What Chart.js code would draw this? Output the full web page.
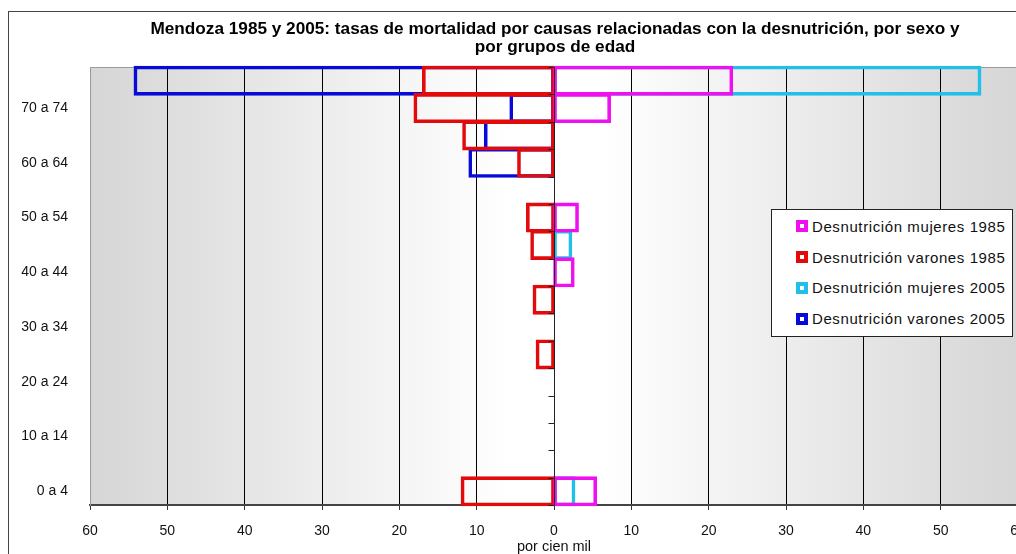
<!DOCTYPE html>
<html>
<head>
<meta charset="utf-8">
<script src="https://cdn.jsdelivr.net/npm/chart.js@4.4.0/dist/chart.umd.min.js"></script>
<style>
  html, body { margin: 0; padding: 0; background: #fff; overflow: hidden; width: 1016px; height: 554px; }
  #frame { position: absolute; left: 8px; top: 11px; width: 1200px; height: 800px; border: 1.5px solid #444; background: #fff; }
  #myChart { position: absolute; left: 0; top: 0; }
  #legend {
    position: absolute; left: 771px; top: 209px; width: 242px; height: 128px;
    box-sizing: border-box; border: 1px solid #222; background: #fff; padding-top: 1px;
    font-family: 'Liberation Sans', Arial, sans-serif; font-size: 15px; letter-spacing: 0.6px; color: #111;
  }
  #legend .row { height: 30.8px; display: flex; align-items: center; padding-left: 24px; }
  #legend .mark { width: 12px; height: 12px; box-sizing: border-box; border: 4px solid; background: #fff; margin-right: 4px; }
</style>
</head>
<body>
<div id="frame"></div>
<canvas id="myChart" width="1110" height="554"></canvas>
<div id="legend"></div>
<script>
// age groups, bottom to top
const ageGroups = ['0 a 4', '5 a 9', '10 a 14', '15 a 19', '20 a 24', '25 a 29', '30 a 34', '35 a 39',
    '40 a 44', '45 a 49', '50 a 54', '55 a 59', '60 a 64', '65 a 69', '70 a 74', '75 y más']

// rates per 100 000 (men drawn on the negative side)
const mujeres1985 = [5.4, null, null, null, null, null, null, null, 2.5, null, 3.05, null, null, null, 7.2, 23.0]
const varones1985 = [-11.9, null, null, null, null, -2.2, null, -2.6, null, -2.9, -3.45, null, -4.6, -11.7, -18.0, -16.9]
const mujeres2005 = [2.6, null, null, null, null, null, null, null, null, 2.2, null, null, null, null, null, 55.1]
const varones2005 = [null, null, null, null, null, null, null, null, null, null, null, null, -10.9, -8.9, -5.6, -54.2]

const seriesNames = ['Desnutrición mujeres 1985', 'Desnutrición varones 1985', 'Desnutrición mujeres 2005', 'Desnutrición varones 2005']
const seriesColors = ['#ee10ee', '#e20a0a', '#22c0e8', '#0a0ad8']
const seriesData = [mujeres1985, varones1985, mujeres2005, varones2005]

const xTicks = [-60, -50, -40, -30, -20, -10, 0, 10, 20, 30, 40, 50, 60]

const titleLines = ['Mendoza 1985 y 2005: tasas de mortalidad por causas relacionadas con la desnutrición, por sexo y',
    'por grupos de edad']

const fontFamily = "'Liberation Sans', Arial, sans-serif"

// gray - white - gray background of the plot area
const plotBackground = {
    id: 'plotBackground',
    beforeDraw(chart) {
        const {ctx, chartArea: a} = chart
        const g = ctx.createLinearGradient(a.left, 0, a.right, 0)
        g.addColorStop(0, '#d6d6d6')
        g.addColorStop(0.45, '#ffffff')
        g.addColorStop(0.55, '#ffffff')
        g.addColorStop(1, '#d6d6d6')
        ctx.save()
        ctx.fillStyle = g
        ctx.fillRect(a.left, a.top, a.right - a.left, a.bottom - a.top)
        ctx.strokeStyle = '#9a9a9a'
        ctx.lineWidth = 1
        ctx.beginPath()
        ctx.moveTo(a.left, a.top + 0.5)
        ctx.lineTo(a.right, a.top + 0.5)
        ctx.stroke()
        ctx.restore()
    }
}

// category axis sits on the zero line, with small ticks between groups
const zeroAxis = {
    id: 'zeroAxis',
    afterDatasetsDraw(chart) {
        const {ctx, chartArea: a, scales: {x, y}} = chart
        const x0 = Math.round(x.getPixelForValue(0)) + 0.5
        const p0 = y.getPixelForValue(0)
        const step = y.getPixelForValue(1) - p0
        ctx.save()
        ctx.strokeStyle = '#222'
        ctx.lineWidth = 1
        ctx.beginPath()
        ctx.moveTo(x0, a.top)
        ctx.lineTo(x0, a.bottom)
        for (let i = 0; i <= ageGroups.length; i++) {
            const yy = Math.round(p0 - step / 2 + i * step) + 0.5
            ctx.moveTo(x0 - 6, yy)
            ctx.lineTo(x0, yy)
        }
        ctx.stroke()
        ctx.restore()
    }
}

const datasets = seriesNames.map((name, i) => ({
    label: name,
    data: seriesData[i],
    borderColor: seriesColors[i],
    backgroundColor: 'rgba(0,0,0,0)',
    borderWidth: 1,
    inflateAmount: 1.3,
    borderSkipped: false,
    grouped: false,
    barPercentage: 1,
    categoryPercentage: 1,
    clip: false
}))

const chart = document.getElementById('myChart').getContext('2d')

new Chart(chart, {
    type: 'bar',
    data: {
        labels: ageGroups,
        datasets: datasets
    },
    options: {
        responsive: false,
        animation: false,
        devicePixelRatio: 1,
        indexAxis: 'y',
        layout: { padding: 0 },
        plugins: {
            legend: { display: false },
            tooltip: { enabled: false },
            title: {
                display: true,
                text: titleLines,
                color: '#000',
                font: { family: fontFamily, size: 17.2, weight: 'bold', lineHeight: '18px' },
                padding: { top: 20, bottom: 11 }
            }
        },
        scales: {
            x: {
                type: 'linear',
                min: -60,
                max: 60,
                afterBuildTicks: (scale) => { scale.ticks = xTicks.map(v => ({ value: v })) },
                afterFit: (scale) => { scale.height = 49 },
                ticks: {
                    color: '#111',
                    font: { family: fontFamily, size: 14 },
                    padding: 13,
                    callback: (v) => Math.abs(v)
                },
                grid: {
                    color: (c) => (Math.abs(c.tick.value) === 60 ? '#9a9a9a' : '#000'),
                    tickColor: '#333',
                    tickLength: 5,
                    lineWidth: 1
                },
                border: { color: '#444', width: 2 },
                title: {
                    display: true,
                    text: 'por cien mil',
                    color: '#111',
                    font: { family: fontFamily, size: 14.5, lineHeight: 1 },
                    padding: { top: 0, bottom: 0 }
                }
            },
            y: {
                reverse: true,
                afterFit: (scale) => { scale.width = 90 },
                grid: { display: false, drawTicks: false },
                border: { color: '#9a9a9a', width: 1 },
                ticks: {
                    autoSkip: false,
                    color: '#111',
                    font: { family: fontFamily, size: 14 },
                    padding: 22,
                    callback: function (v, i) { return i % 2 === 0 ? this.getLabelForValue(v) : '' }
                }
            },
            // empty right axis, only keeps room so the plot ends where the reference does
            yRight: {
                type: 'category',
                position: 'right',
                afterFit: (scale) => { scale.width = 92 },
                grid: { display: false, drawTicks: false },
                border: { display: false },
                ticks: { display: false }
            }
        }
    },
    plugins: [plotBackground, zeroAxis]
})

// legend box inside the plot
let legend = document.getElementById('legend')
seriesNames.forEach((name, i) => {
    let row = document.createElement('div')
    row.className = 'row'
    let mark = document.createElement('span')
    mark.className = 'mark'
    mark.style.borderColor = seriesColors[i]
    let txt = document.createElement('span')
    txt.innerText = name
    row.appendChild(mark)
    row.appendChild(txt)
    legend.appendChild(row)
})
</script>
</body>
</html>
